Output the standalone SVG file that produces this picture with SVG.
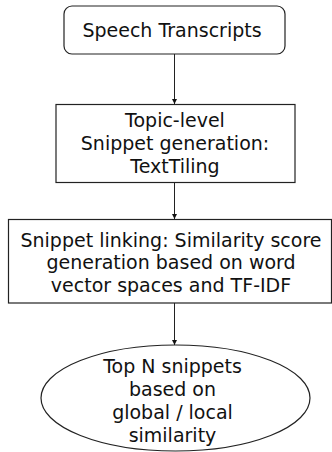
<svg xmlns="http://www.w3.org/2000/svg" width="332" height="452" viewBox="0 0 332 452">
<style>
.n{fill:#fff;stroke:#222;stroke-width:1.2}
.t{font-family:"DejaVu Sans",sans-serif;font-size:19px;fill:#111;text-anchor:middle}
.c{stroke:#222;stroke-width:1;fill:none;marker-end:url(#a)}
</style>
<defs>
<marker id="a" viewBox="0 0 10 10" refX="10" refY="5" markerWidth="6" markerHeight="5" markerUnits="userSpaceOnUse" orient="auto">
<path d="M0,0L10,5L0,10z" fill="#111"/>
</marker>
</defs>
<rect width="332" height="452" fill="#fff"/>
<g id="connectors">
<line class="c" x1="174.5" y1="54" x2="174.5" y2="104"/>
<line class="c" x1="174.5" y1="183" x2="174.5" y2="219"/>
<line class="c" x1="174.5" y1="303" x2="174.5" y2="345"/>
</g>
<g id="n1">
<rect class="n" x="64" y="6" width="221" height="48" rx="8"/>
<text class="t" x="172" y="37">Speech Transcripts</text>
</g>
<g id="n2">
<rect class="n" x="56" y="104.5" width="239" height="78"/>
<text class="t" x="175" y="127">Topic-level</text>
<text class="t" x="175" y="150">Snippet generation:</text>
<text class="t" x="175" y="173">TextTiling</text>
</g>
<g id="n3">
<rect class="n" x="8.5" y="219.5" width="323" height="83.5"/>
<text class="t" x="171" y="247">Snippet linking: Similarity score</text>
<text class="t" x="171" y="269">generation based on word</text>
<text class="t" x="171" y="292">vector spaces and TF-IDF</text>
</g>
<g id="n4">
<ellipse class="n" cx="175.5" cy="398" rx="134.5" ry="53"/>
<text class="t" x="172.5" y="373">Top N snippets</text>
<text class="t" x="172.5" y="396">based on</text>
<text class="t" x="172.5" y="419">global / local</text>
<text class="t" x="172.5" y="442">similarity</text>
</g>
</svg>
